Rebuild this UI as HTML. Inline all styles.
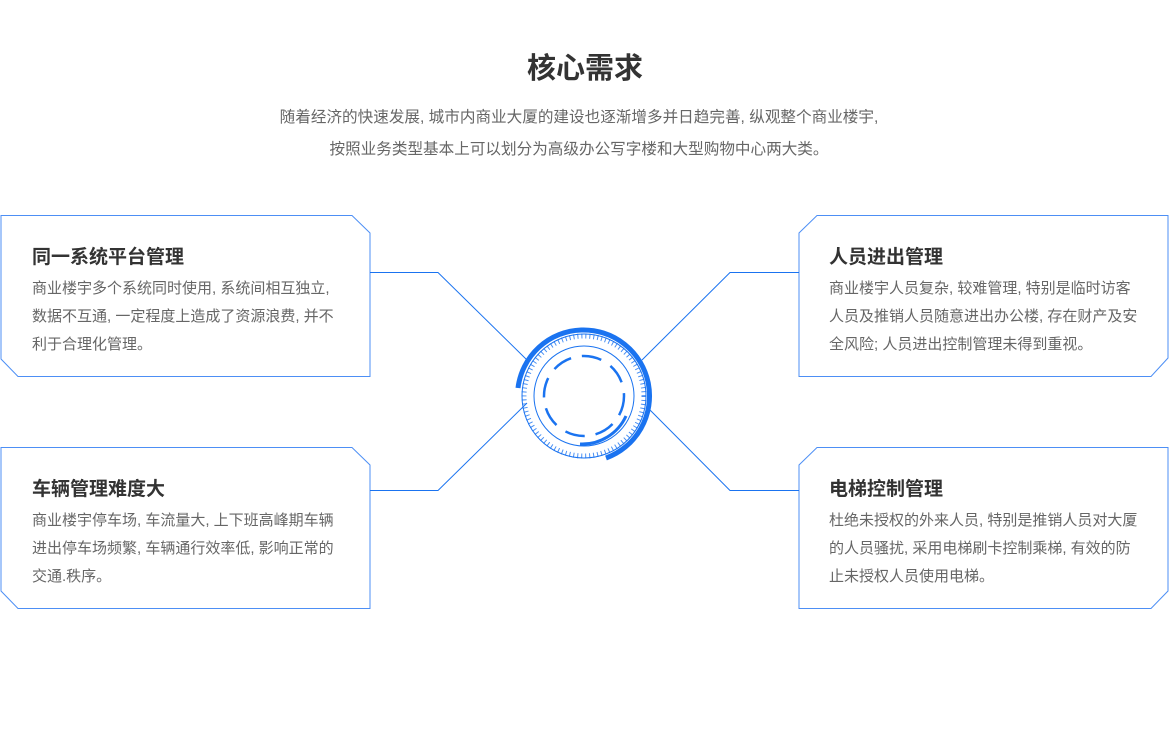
<!DOCTYPE html>
<html><head><meta charset="utf-8"><style>
body{margin:0;width:1170px;height:734px;background:#fff;position:relative;overflow:hidden;font-family:"Liberation Sans","Noto Sans CJK SC",sans-serif}
.t{position:absolute;left:0;width:1170px;text-align:center}
.box{position:absolute;width:340px}
.box h3{margin:2px 0 0;font-size:19px;font-weight:bold;color:#333;line-height:26px}
.box p{margin:4px 0 0;font-size:15px;color:#666;line-height:28px}
</style></head><body>
<div class="t" style="top:45px;font-size:29px;font-weight:bold;color:#333">核心需求</div>
<div class="t" style="top:102px;left:-6px;font-size:15.6px;color:#666;line-height:32px">随着经济的快速发展, 城市内商业大厦的建设也逐渐增多并日趋完善, 纵观整个商业楼宇,<br>按照业务类型基本上可以划分为高级办公写字楼和大型购物中心两大类。</div>
<svg width="1170" height="734" style="position:absolute;left:0;top:0">
<g fill="none" stroke="#1a73f0" stroke-width="1">
<path d="M1,215.5H352L370,233V376.5H18L1,359Z" stroke="#4d8ff5"/>
<path d="M1,447.5H352L370,465V608.5H18L1,591Z" stroke="#4d8ff5"/>
<path d="M817,215.5H1168V358L1151,376.5H799V233Z" stroke="#4d8ff5"/>
<path d="M817,447.5H1168V591L1151,608.5H799V465Z" stroke="#4d8ff5"/>
<path d="M370,272.5H438L527,360"/>
<path d="M370,490.5H438L527,403"/>
<path d="M799,272.5H730L642,360"/>
<path d="M799,490.5H730L650,410"/>
</g>
<g transform="translate(584,396)" fill="none" stroke="#1a73f0">
<path d="M-66,-8 A66,66 0 1 1 22,62" stroke-width="5"/>
<path d="M-4,48 A48,48 0 0 0 42,20" stroke-width="3"/>
<circle r="60" stroke-width="5" stroke-dasharray="1 3" opacity="0.8"/>
<circle r="62" stroke-width="1"/>
<circle r="50" stroke-width="1"/>
<circle r="40" stroke-width="2.5" stroke-dasharray="20 11"/>
</g>
</svg>
<div class="box" style="left:32px;top:243px"><h3>同一系统平台管理</h3><p>商业楼宇多个系统同时使用, 系统间相互独立,<br>数据不互通, 一定程度上造成了资源浪费, 并不<br>利于合理化管理。</p></div>
<div class="box" style="left:32px;top:475px"><h3>车辆管理难度大</h3><p>商业楼宇停车场, 车流量大, 上下班高峰期车辆<br>进出停车场频繁, 车辆通行效率低, 影响正常的<br>交通.秩序。</p></div>
<div class="box" style="left:829px;top:243px"><h3>人员进出管理</h3><p>商业楼宇人员复杂, 较难管理, 特别是临时访客<br>人员及推销人员随意进出办公楼, 存在财产及安<br>全风险; 人员进出控制管理未得到重视。</p></div>
<div class="box" style="left:829px;top:475px"><h3>电梯控制管理</h3><p>杜绝未授权的外来人员, 特别是推销人员对大厦<br>的人员骚扰, 采用电梯刷卡控制乘梯, 有效的防<br>止未授权人员使用电梯。</p></div>
</body></html>
